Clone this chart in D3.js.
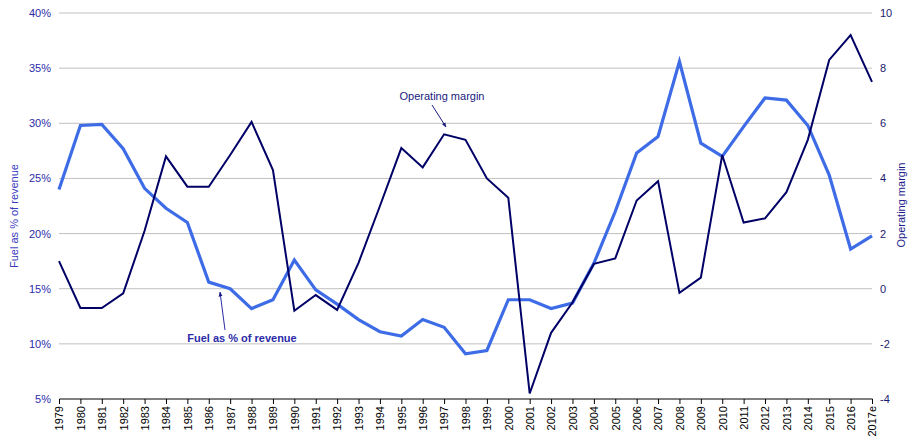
<!DOCTYPE html>
<html>
<head>
<meta charset="utf-8">
<script src="https://cdn.jsdelivr.net/npm/d3@7"></script>
<style>
  body { margin: 0; background: #fff; }
  svg text { font-family: "Liberation Sans", Arial, sans-serif; }
</style>
</head>
<body>
<div class="svg-div"></div>
<script>
var years = ["1979","1980","1981","1982","1983","1984","1985","1986","1987","1988","1989",
  "1990","1991","1992","1993","1994","1995","1996","1997","1998","1999","2000","2001",
  "2002","2003","2004","2005","2006","2007","2008","2009","2010","2011","2012","2013",
  "2014","2015","2016","2017e"];

// fuel as % of revenue (left axis)
var fuelPct = [24.0, 29.8, 29.9, 27.7, 24.1, 22.3, 21.0, 15.6, 15.0, 13.2, 14.0,
  17.6, 14.9, 13.6, 12.2, 11.1, 10.7, 12.2, 11.5, 9.1, 9.4, 14.0, 14.0,
  13.2, 13.7, 17.3, 22.0, 27.3, 28.8, 35.6, 28.2, 27.0, 29.7, 32.3, 32.1,
  29.8, 25.3, 18.6, 19.8];

// operating margin (right axis)
var opMargin = [1.0, -0.7, -0.7, -0.17, 2.1, 4.8, 3.7, 3.7, 4.85, 6.05, 4.3,
  -0.8, -0.23, -0.77, 0.94, 3.0, 5.1, 4.4, 5.6, 5.4, 4.0, 3.3, -3.8,
  -1.6, -0.5, 0.9, 1.1, 3.2, 3.9, -0.15, 0.4, 4.85, 2.4, 2.55, 3.5,
  5.4, 8.3, 9.2, 7.5];

var leftTicks = [0.05, 0.10, 0.15, 0.20, 0.25, 0.30, 0.35, 0.40];
var rightTicks = [-4, -2, 0, 2, 4, 6, 8, 10];

var W = 914, H = 443;
var margin = { top: 13, right: 42, bottom: 44, left: 59 },
  width = W - margin.left - margin.right,
  height = H - margin.top - margin.bottom;

var svg = d3.select(".svg-div")
  .append("svg")
    .attr("width", W)
    .attr("height", H)
  .append("g")
    .attr("transform", "translate(" + margin.left + "," + margin.top + ")");

var x = d3.scalePoint().domain(years).range([0, width]);
var yL = d3.scaleLinear().domain([0.05, 0.40]).range([height, 0]);
var yR = d3.scaleLinear().domain([-4, 10]).range([height, 0]);

// gridlines
svg.append("g")
  .selectAll("line")
  .data(leftTicks.slice(1))
  .enter()
  .append("line")
  .attr("x1", 0)
  .attr("x2", width)
  .attr("y1", function(d) { return yL(d); })
  .attr("y2", function(d) { return yL(d); })
  .style("stroke", "#c0c0c0")
  .style("stroke-width", 1);

// left axis
var gl = svg.append("g")
  .call(d3.axisLeft(yL).tickValues(leftTicks).tickFormat(d3.format(".0%")).tickSize(0).tickPadding(8));
gl.select(".domain").remove();
gl.selectAll("text").style("font-size", "11px").style("fill", "#2b2ba8");

// right axis
var gr = svg.append("g")
  .attr("transform", "translate(" + width + ",0)")
  .call(d3.axisRight(yR).tickValues(rightTicks).tickSize(0).tickPadding(8)
    .tickFormat(function(d) { return d < 0 ? "-" + Math.abs(d) : d; }));
gr.select(".domain").remove();
gr.selectAll("text").style("font-size", "11px").style("fill", "#1a1a6e");

// bottom axis
var gx = svg.append("g")
  .attr("transform", "translate(0," + height + ")")
  .call(d3.axisBottom(x).tickSize(5).tickSizeOuter(0));
gx.select(".domain").style("stroke", "#000").attr("d", "M0.5,0H" + (width + 0.5));
gx.selectAll(".tick line").style("stroke", "#000");
gx.selectAll("text")
  .style("font-size", "11px")
  .style("fill", "#000")
  .attr("text-anchor", "end")
  .attr("transform", "rotate(-90)")
  .attr("x", -7)
  .attr("y", 0)
  .attr("dy", "0.35em");

// lines
var fuelLine = d3.line()
  .x(function(d, i) { return x(years[i]); })
  .y(function(d) { return yL(d / 100); });
var marginLine = d3.line()
  .x(function(d, i) { return x(years[i]); })
  .y(function(d) { return yR(d); });

svg.append("path")
  .datum(fuelPct)
  .attr("d", fuelLine)
  .style("fill", "none")
  .style("stroke", "#3d6ce6")
  .style("stroke-width", 3.2)
  .style("stroke-linejoin", "miter");

svg.append("path")
  .datum(opMargin)
  .attr("d", marginLine)
  .style("fill", "none")
  .style("stroke", "#000066")
  .style("stroke-width", 2)
  .style("stroke-linejoin", "miter");

// axis titles
svg.append("text")
  .attr("transform", "translate(" + (14 - margin.left) + "," + (216 - margin.top) + ") rotate(-90)")
  .attr("text-anchor", "middle")
  .attr("dy", "0.35em")
  .style("font-size", "11px")
  .style("fill", "#3a3ac0")
  .text("Fuel as % of revenue");

svg.append("text")
  .attr("transform", "translate(" + (901 - margin.left) + "," + (205 - margin.top) + ") rotate(-90)")
  .attr("text-anchor", "middle")
  .attr("dy", "0.35em")
  .style("font-size", "11px")
  .style("fill", "#1a1a8a")
  .text("Operating margin");

// annotations
var defs = svg.append("defs");
defs.append("marker")
  .attr("id", "arr")
  .attr("viewBox", "0 0 10 10")
  .attr("refX", 9).attr("refY", 5)
  .attr("markerWidth", 5).attr("markerHeight", 5)
  .attr("orient", "auto")
  .append("path").attr("d", "M0,1L10,5L0,9z").style("fill", "#1a1a80");

svg.append("text")
  .attr("x", 442 - margin.left)
  .attr("y", 100 - margin.top)
  .attr("text-anchor", "middle")
  .style("font-size", "11px")
  .style("fill", "#1a1a80")
  .text("Operating margin");
svg.append("line")
  .attr("x1", 432 - margin.left).attr("y1", 105 - margin.top)
  .attr("x2", 446 - margin.left).attr("y2", 127 - margin.top)
  .style("stroke", "#1a1a80").style("stroke-width", 1)
  .attr("marker-end", "url(#arr)");

svg.append("text")
  .attr("x", 242 - margin.left)
  .attr("y", 342 - margin.top)
  .attr("text-anchor", "middle")
  .style("font-size", "11px")
  .style("font-weight", "bold")
  .style("fill", "#2b2ba8")
  .text("Fuel as % of revenue");
svg.append("line")
  .attr("x1", 225 - margin.left).attr("y1", 330 - margin.top)
  .attr("x2", 220 - margin.left).attr("y2", 292 - margin.top)
  .style("stroke", "#2b2ba8").style("stroke-width", 1)
  .attr("marker-end", "url(#arr)");
</script>
</body>
</html>
